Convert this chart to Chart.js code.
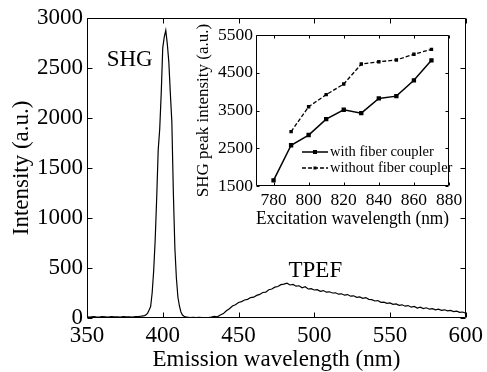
<!DOCTYPE html>
<html>
<head>
<meta charset="utf-8">
<script src="https://cdn.jsdelivr.net/npm/chart.js@4.4.1/dist/chart.umd.min.js"></script>
<style>
  body { margin: 0; background: #fff; }
  #wrap { position: relative; width: 487px; height: 372px; }
  #main { position: absolute; left: 0; top: 0; }
  #inset { position: absolute; left: 190px; top: 18px; }
</style>
</head>
<body>
<div id="wrap">
  <canvas id="main" width="487" height="372"></canvas>
  <canvas id="inset" width="290" height="212"></canvas>
</div>
<script>
// Main spectrum (emission wavelength in nm, intensity in a.u.)
const emissionNm = [
  350, 352, 354, 356, 358, 360, 362, 364, 366, 368, 370, 372, 374, 376, 378, 380, 382, 384, 386,
  388, 389, 390, 391, 392, 393, 394, 395, 396, 397, 398, 399, 400, 401, 402, 403, 404, 405, 406,
  407, 408, 409, 410, 411, 412, 413, 414,
  416, 418, 420, 422, 424, 426, 428, 430, 432,
  434, 436, 438, 440, 442, 444, 446, 448, 450, 452, 454, 456, 458, 460, 462, 464, 466, 468,
  470, 472, 474, 476, 478, 480, 482, 484, 486, 488, 490, 492, 494, 496, 498, 500, 502, 504,
  506, 508, 510, 512, 514, 516, 518, 520, 522, 524, 526, 528, 530, 532, 534, 536, 538, 540,
  542, 544, 546, 548, 550, 552, 554, 556, 558, 560, 562, 564, 566, 568, 570, 572, 574, 576,
  578, 580, 582, 584, 586, 588, 590, 592, 594, 596, 598, 600
];
const emissionIntensity = [
  12, 10, 14, 11, 9, 13, 12, 10, 14, 11, 12, 9, 13, 11, 12, 10, 13, 15, 18,
  24, 32, 48, 80, 115, 250, 470, 780, 1200, 1680, 1890, 2250, 2700, 2810, 2875, 2740, 2560, 2250, 1960,
  1250, 700, 400, 210, 120, 60, 30, 18,
  8, 5, 7, 4, 6, 3, 5, 4, 9,
  16, 12, 30, 44, 72, 92, 120, 132, 155, 164, 180, 186, 204, 208, 226, 236, 255, 258,
  282, 290, 308, 315, 333, 338, 348, 330, 336, 318, 322, 302, 312, 290, 294, 280, 283, 266,
  274, 258, 262, 250, 252, 238, 242, 228, 234, 218, 222, 206, 210, 196, 204, 186, 184, 170,
  174, 156, 158, 146, 150, 136, 140, 126, 132, 118, 124, 108, 116, 100, 108, 94, 102, 88,
  94, 82, 88, 76, 82, 72, 76, 64, 68, 56, 60, 48
];
const mainXTicks = [350, 400, 450, 500, 550, 600];
const mainYTicks = [0, 500, 1000, 1500, 2000, 2500, 3000];

// Inset: SHG peak intensity vs excitation wavelength
const excitationNm = [780, 790, 800, 810, 820, 830, 840, 850, 860, 870];
const withCoupler = [1650, 2580, 2850, 3270, 3520, 3430, 3820, 3880, 4300, 4830];
const withoutCoupler = [null, 2940, 3600, 3920, 4200, 4730, 4790, 4840, 4990, 5120];
const insetXTicks = [780, 800, 820, 840, 860, 880];
const insetYTicks = [1500, 2500, 3500, 4500, 5500];

const SERIF = "'Liberation Serif', 'Times New Roman', serif";
Chart.defaults.font.family = SERIF;
Chart.defaults.color = '#000';

const serif = size => ({ family: SERIF, size: size, weight: 'normal' });
const toPoints = (xs, ys) => xs.map((x, i) => ({ x: x, y: ys[i] }));
const setTicks = list => scale => { scale.ticks = list.map(v => ({ value: v })); };
const plain = v => String(v);

// box around the plot with inward ticks on every side (matlab style)
const frameTicks = {
  id: 'frameTicks',
  afterDraw(chart, args, opts) {
    const { ctx, chartArea: a, scales: { x, y } } = chart;
    const L = Math.round(a.left) + 0.5, R = Math.round(a.right) - 0.5;
    const T = Math.round(a.top) + 0.5, B = Math.round(a.bottom) - 0.5;
    ctx.save();
    ctx.strokeStyle = '#000';
    ctx.lineWidth = 1;
    ctx.beginPath();
    ctx.rect(L, T, R - L, B - T);
    x.ticks.forEach(t => {
      const px = Math.round(x.getPixelForValue(t.value)) + 0.5;
      ctx.moveTo(px, B); ctx.lineTo(px, B - opts.len);
      ctx.moveTo(px, T); ctx.lineTo(px, T + opts.len);
    });
    y.ticks.forEach(t => {
      const py = Math.round(y.getPixelForValue(t.value)) + 0.5;
      ctx.moveTo(L, py); ctx.lineTo(L + opts.len, py);
      ctx.moveTo(R, py); ctx.lineTo(R - opts.len, py);
    });
    ctx.stroke();
    ctx.restore();
  }
};

// peak labels inside the main plot
const peakLabels = {
  id: 'peakLabels',
  afterDraw(chart) {
    const { ctx, scales: { x, y } } = chart;
    ctx.save();
    ctx.fillStyle = '#000';
    ctx.font = "23px " + SERIF;
    ctx.textAlign = 'left';
    ctx.textBaseline = 'alphabetic';
    ctx.fillText('SHG', x.getPixelForValue(363), y.getPixelForValue(2520));
    ctx.fillText('TPEF', x.getPixelForValue(483), y.getPixelForValue(410));
    ctx.restore();
  }
};

// legend drawn in the lower right of the inset plot
const insetLegend = {
  id: 'insetLegend',
  afterDraw(chart) {
    const { ctx, chartArea: a } = chart;
    const x0 = a.left + 46, y0 = a.bottom - 34;
    ctx.save();
    ctx.font = "14.5px " + SERIF;
    ctx.textBaseline = 'middle';
    chart.data.datasets.forEach((ds, i) => {
      const yy = y0 + i * 16;
      ctx.strokeStyle = '#000';
      ctx.lineWidth = ds.borderWidth;
      ctx.setLineDash(ds.borderDash || []);
      ctx.beginPath();
      ctx.moveTo(x0, yy); ctx.lineTo(x0 + 26, yy);
      ctx.stroke();
      ctx.setLineDash([]);
      ctx.fillStyle = '#000';
      const r = ds.pointRadius;
      ctx.fillRect(x0 + 13 - r, yy - r, 2 * r, 2 * r);
      ctx.fillText(ds.label, x0 + 28, yy);
    });
    ctx.restore();
  }
};

new Chart(document.getElementById('main'), {
  type: 'line',
  data: {
    datasets: [{
      data: toPoints(emissionNm, emissionIntensity),
      borderColor: '#000',
      borderWidth: 1.2,
      pointRadius: 0,
      tension: 0
    }]
  },
  options: {
    responsive: false,
    animation: false,
    events: [],
    layout: { padding: { top: 17, right: 18, left: 0, bottom: 0 } },
    plugins: { legend: { display: false }, tooltip: { enabled: false }, frameTicks: { len: 5 } },
    scales: {
      x: {
        type: 'linear', min: 350, max: 600,
        afterBuildTicks: setTicks(mainXTicks),
        afterFit: s => { s.height = 54; },
        grid: { display: false, drawTicks: false },
        border: { display: false },
        ticks: { font: serif(23), padding: 4, maxRotation: 0, autoSkip: false, callback: plain },
        title: { display: true, text: 'Emission wavelength (nm)', font: serif(23), padding: { top: 0, bottom: -2 } }
      },
      y: {
        type: 'linear', min: 0, max: 3000,
        afterBuildTicks: setTicks(mainYTicks),
        afterFit: s => { s.width = 87; },
        grid: { display: false, drawTicks: false },
        border: { display: false },
        ticks: { font: serif(23), padding: 4, autoSkip: false, callback: plain },
        title: { display: true, text: 'Intensity (a.u.)', font: serif(23), padding: { top: 8, bottom: 0 } }
      }
    }
  },
  plugins: [frameTicks, peakLabels]
});

new Chart(document.getElementById('inset'), {
  type: 'line',
  data: {
    datasets: [{
      label: 'with fiber coupler',
      data: toPoints(excitationNm, withCoupler),
      borderColor: '#000',
      backgroundColor: '#000',
      borderWidth: 1.5,
      pointStyle: 'rect',
      pointRadius: 2,
      tension: 0
    }, {
      label: 'without fiber coupler',
      data: toPoints(excitationNm, withoutCoupler),
      borderColor: '#000',
      backgroundColor: '#000',
      borderWidth: 1.3,
      borderDash: [4, 2],
      pointStyle: 'rect',
      pointRadius: 1.5,
      tension: 0
    }]
  },
  options: {
    responsive: false,
    animation: false,
    events: [],
    layout: { padding: { top: 17, right: 31, left: 0, bottom: 0 } },
    plugins: { legend: { display: false }, tooltip: { enabled: false }, frameTicks: { len: 3 } },
    scales: {
      x: {
        type: 'linear', min: 770, max: 880,
        afterBuildTicks: setTicks(insetXTicks),
        afterFit: s => { s.height = 44; },
        grid: { display: false, drawTicks: false },
        border: { display: false },
        ticks: { font: serif(17.5), padding: 4, maxRotation: 0, autoSkip: false, callback: plain },
        title: { display: true, text: 'Excitation wavelength (nm)', font: serif(18), padding: { top: 0, bottom: 0 } }
      },
      y: {
        type: 'linear', min: 1500, max: 5500,
        afterBuildTicks: setTicks(insetYTicks),
        afterFit: s => { s.width = 66; },
        grid: { display: false, drawTicks: false },
        border: { display: false },
        ticks: { font: serif(17.5), padding: 3, autoSkip: false, callback: plain },
        title: { display: true, text: 'SHG peak intensity (a.u.)', font: serif(17), padding: { top: 3, bottom: 0 } }
      }
    }
  },
  plugins: [frameTicks, insetLegend]
});
</script>
</body>
</html>
